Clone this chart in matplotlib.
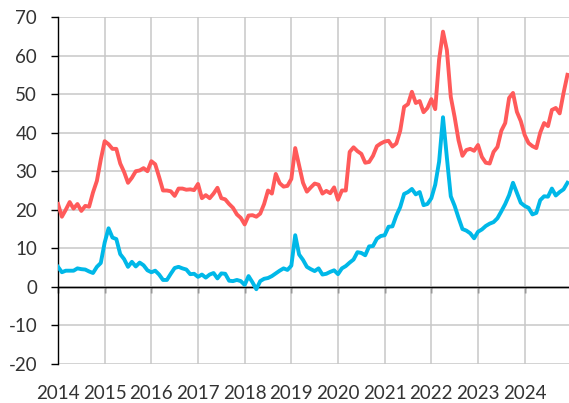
import numpy as np
import matplotlib
matplotlib.use('Agg')
import matplotlib.pyplot as plt

plt.rcParams['font.family'] = ['Lato', 'DejaVu Sans']
plt.rcParams['axes.unicode_minus'] = False

# monthly values, Jan 2014 - Dec 2024
red = [21.5, 18.2, 20, 22, 20.3, 21.5, 19.7, 21, 20.8, 24.5, 27.5, 33,
       37.8, 37, 35.8, 35.8, 32, 29.8, 27, 28.3, 30, 30.2, 30.8, 30,
       32.6, 31.8, 28.5, 25, 25, 24.8, 23.6, 25.5, 25.5, 25.2, 25.3, 25.1,
       26.7, 23, 23.8, 23, 24.2, 25.7, 23, 22.7, 21.5, 20.5, 18.8, 17.9,
       16.2, 18.5, 18.6, 18.2, 19, 21.5, 25, 24.2, 29.3, 26.9, 26, 26.2,
       28, 36, 31.5, 27, 24.7, 25.8, 26.8, 26.5, 24.2, 24.9, 24.3, 25.8,
       22.6, 25, 25, 35, 36.2, 35.2, 34.5, 32.2, 32.4, 34, 36.5, 37.2,
       37.7, 37.9, 36.4, 37.2, 40.5, 46.7, 47.4, 50.6, 47.7, 48.2, 45.3, 46.4,
       48.7, 46.1, 59, 66.2, 61.4, 49.3, 44, 38, 34, 35.5, 35.8, 35.3,
       36.8, 33.7, 32.2, 32, 35, 36.3, 40.5, 42.5, 49, 50.3, 45.4, 43,
       39.4, 37.3, 36.5, 36, 40, 42.5, 41.7, 45.9, 46.4, 45, 50.3, 55]

blue = [5.2, 3.8, 4.2, 4.2, 4.2, 4.8, 4.6, 4.5, 4.0, 3.6, 5.2, 6.2,
        11.5, 15.2, 12.8, 12.4, 8.5, 7.2, 5.2, 6.5, 5.3, 6.3, 5.6, 4.3,
        3.8, 4.2, 3.2, 1.8, 1.8, 3.4, 4.9, 5.2, 4.8, 4.5, 3.3, 3.4,
        2.6, 3.2, 2.4, 3.2, 3.6, 2.2, 3.5, 3.4, 1.6, 1.5, 1.8, 1.5,
        0.5, 2.8, 1.2, -0.6, 1.5, 2.1, 2.3, 2.8, 3.5, 4.2, 4.8, 4.4,
        5.5, 13.4, 8.4, 7, 5.2, 4.6, 4.1, 4.8, 3.2, 3.4, 3.9, 4.3,
        3.3, 4.8, 5.4, 6.3, 7.1, 9, 8.8, 8.2, 10.5, 10.6, 12.5, 13.2,
        13.4, 15.6, 15.7, 18.5, 20.7, 24.1, 24.6, 25.4, 24, 24.6, 21.2, 21.5,
        23, 26.5, 32.5, 44, 33.5, 23.5, 21, 17.9, 15, 14.6, 13.9, 12.6,
        14.3, 14.9, 15.8, 16.4, 16.8, 17.8, 19.6, 21.5, 23.8, 27, 24.4, 21.8,
        21, 20.5, 18.8, 19.2, 22.5, 23.5, 23.4, 25.5, 23.7, 24.6, 25.3, 27]

years = list(range(2014, 2025))
t = 2014 + np.arange(len(red)) / 12
ymin, ymax = -20, 70

fig = plt.figure(figsize=(5.69, 4.03), dpi=100)
ax = fig.add_axes([58 / 569, 1 - 364 / 403, 1 - 58 / 569, 347 / 403])

ax.plot(t, red, color='#FF5A5A', lw=2.8, zorder=3)
ax.plot(t, blue, color='#00B8E8', lw=2.8, zorder=3)

ax.set_xlim(2014, 2024.95)
ax.set_ylim(ymin, ymax)
ax.set_xticks(years)
ax.set_xticklabels([str(y) for y in years])
ax.set_yticks(range(ymin, ymax + 1, 10))
ax.grid(True, color='#c8c8c8', lw=1.1)
ax.set_axisbelow(True)

for side in ['top', 'right', 'bottom']:
    ax.spines[side].set_visible(False)
ax.spines['left'].set_color('black')
ax.spines['left'].set_linewidth(1)

ax.tick_params(axis='x', length=0, pad=15, labelsize=13.5, labelcolor='#333333')
ax.tick_params(axis='y', length=5, width=1, color='black', pad=10,
               labelsize=13.5, labelcolor='#333333')

# zero line with year ticks hanging below it
ax.axhline(0, color='black', lw=1, zorder=2)
zero = ax.secondary_xaxis((0 - ymin) / (ymax - ymin))
zero.set_xticks(years)
zero.tick_params(direction='out', length=4.5, width=1, color='black', labelbottom=False)
zero.spines['bottom'].set_color('black')
zero.spines['bottom'].set_linewidth(1)

fig.savefig('out.png', dpi=100)
